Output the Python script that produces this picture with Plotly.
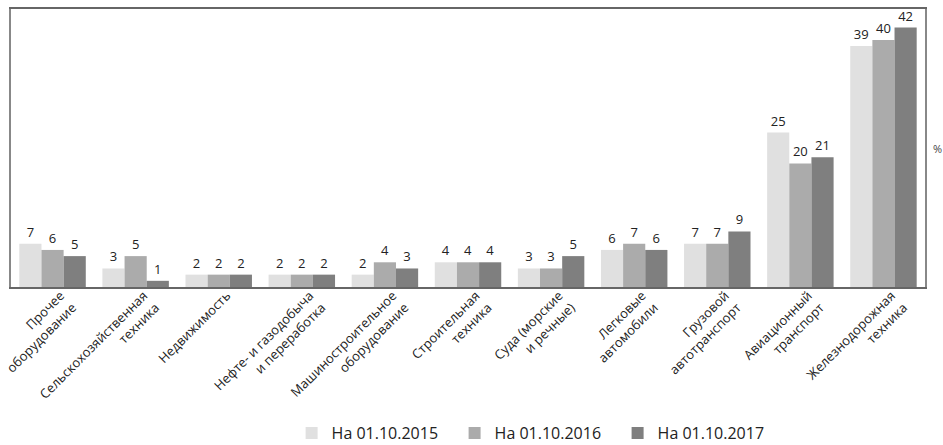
import plotly.graph_objects as go

categories = [
    "Прочее<br>оборудование",
    "Сельскохозяйственная<br>техника",
    "Недвижимость",
    "Нефте- и газодобыча<br>и переработка",
    "Машиностроительное<br>оборудование",
    "Строительная<br>техника",
    "Суда (морские<br>и речные)",
    "Легковые<br>автомобили",
    "Грузовой<br>автотранспорт",
    "Авиационный<br>транспорт",
    "Железнодорожная<br>техника",
]
series_names = ["На 01.10.2015", "На 01.10.2016", "На 01.10.2017"]
values_2015 = [7, 3, 2, 2, 2, 4, 3, 6, 7, 25, 39]
values_2016 = [6, 5, 2, 2, 4, 4, 3, 7, 7, 20, 40]
values_2017 = [5, 1, 2, 2, 3, 4, 5, 6, 9, 21, 42]
colors = ["#e0e0e0", "#ababab", "#7f7f7f"]

font_family = "Open Sans, Noto Sans, sans-serif"

fig = go.Figure()
for name, vals, col in zip(series_names, [values_2015, values_2016, values_2017], colors):
    fig.add_trace(go.Bar(
        x=categories, y=vals, name=name,
        marker=dict(color=col, line=dict(width=0)),
        text=vals, textposition="outside", cliponaxis=False,
        textfont=dict(size=13, color="#222", family=font_family),
    ))

fig.update_layout(
    width=943, height=445,
    margin=dict(l=11, r=18, t=9, b=158, autoexpand=False),
    paper_bgcolor="white", plot_bgcolor="white",
    barmode="group", bargap=0.2, bargroupgap=0,
    font=dict(family=font_family, color="#222"),
    showlegend=True,
    legend=dict(orientation="h", x=0.307, xanchor="left",
                yref="container", y=0.027, yanchor="middle",
                font=dict(size=16, color="#222"), traceorder="normal",
                entrywidth=118, entrywidthmode="pixels"),
)
fig.update_xaxes(
    tickangle=-45, tickfont=dict(size=13, color="#222"), automargin=False,
    ticklabelstandoff=-6, ticklabelshift=8,
    showline=True, linecolor="#666", linewidth=2, mirror=True,
    ticks="", showgrid=False,
)
fig.update_yaxes(
    range=[0, 45], showticklabels=False, showgrid=False, zeroline=False, automargin=False,
    showline=True, linecolor="#888", linewidth=2, mirror=True, ticks="",
)
fig.add_annotation(text="%", xref="paper", yref="paper", x=1.0, y=0.5,
                   xanchor="left", xshift=6, showarrow=False,
                   font=dict(size=11, color="#444"))

# drop the default 8px body margin so the figure sits at the page corner
fig.write_html("out.html", config={"displayModeBar": False},
               post_script="document.body.style.margin='0';")
